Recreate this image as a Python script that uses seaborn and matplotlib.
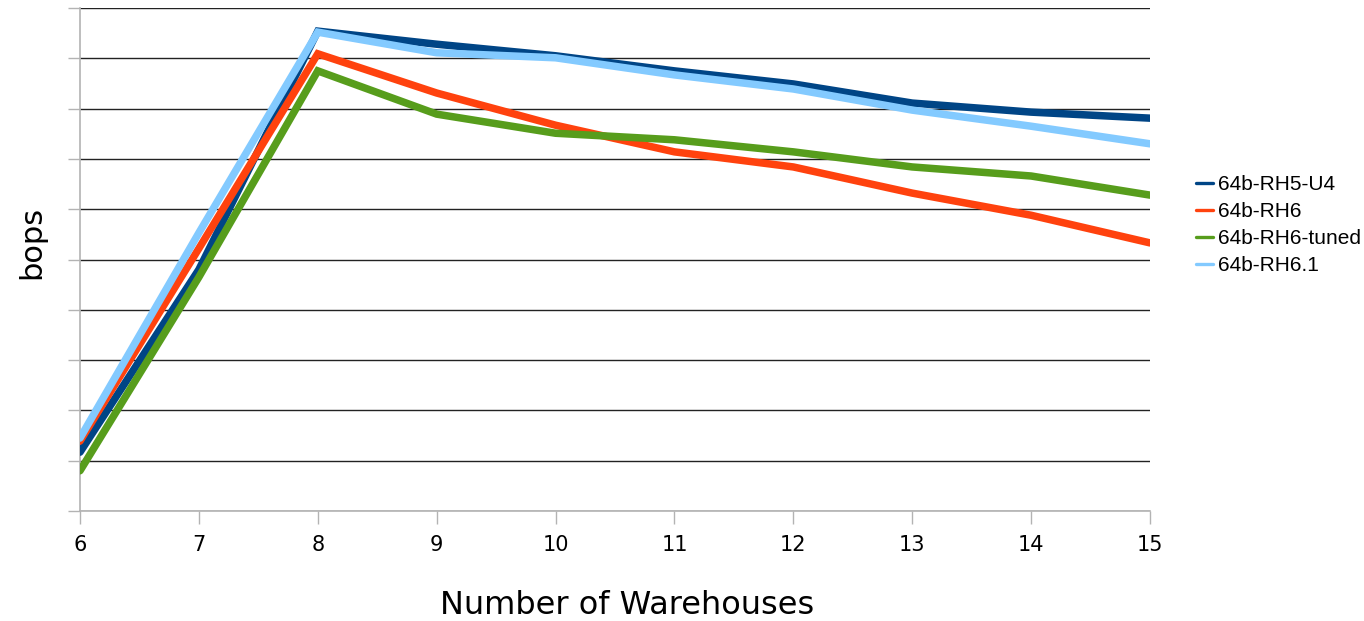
import numpy as np
import pandas as pd
import matplotlib
matplotlib.use("Agg")
import matplotlib.pyplot as plt
import seaborn as sns

# Throughput per warehouse count (relative bops units, axis is unlabelled)
warehouses = [6, 7, 8, 9, 10, 11, 12, 13, 14, 15]
series_names = ["64b-RH5-U4", "64b-RH6", "64b-RH6-tuned", "64b-RH6.1"]
rh5_u4 = [1.17, 4.80, 9.54, 9.28, 9.05, 8.75, 8.49, 8.11, 7.93, 7.81]
rh6 = [1.39, 5.22, 9.09, 8.31, 7.67, 7.14, 6.84, 6.32, 5.88, 5.33]
rh6_tuned = [0.80, 4.65, 8.75, 7.89, 7.51, 7.38, 7.14, 6.84, 6.66, 6.28]
rh6_1 = [1.45, 5.53, 9.52, 9.11, 9.01, 8.67, 8.39, 7.97, 7.65, 7.30]
colors = ["#004586", "#ff420e", "#579d1c", "#83caff"]

df = pd.DataFrame({
    "warehouses": warehouses * 4,
    "bops": rh5_u4 + rh6 + rh6_tuned + rh6_1,
    "series": sum([[n] * len(warehouses) for n in series_names], []),
})

sns.set_theme(style="white")
plt.rcParams["font.family"] = ["DejaVu Sans"]
plt.rcParams["text.color"] = "black"
plt.rcParams["axes.labelcolor"] = "black"

fig = plt.figure(figsize=(13.64, 6.21), dpi=100)
ax = fig.add_axes([80 / 1364, 110 / 621, 1070 / 1364, 503 / 621])

sns.lineplot(data=df, x="warehouses", y="bops", hue="series",
             hue_order=series_names, palette=colors, linewidth=5.4,
             ax=ax, legend=False, solid_joinstyle="miter", zorder=3)

ax.set_xlim(6, 15)
ax.set_ylim(0, 10)
ax.set_xticks(warehouses)
ax.set_xticklabels([str(w) for w in warehouses], fontsize=15)
ax.set_yticks(np.arange(0, 11, 1))
ax.set_yticklabels([])
ax.yaxis.grid(True, color="#222222", linewidth=1.0)
ax.xaxis.grid(False)
ax.set_axisbelow(True)

for side in ["top", "right"]:
    ax.spines[side].set_visible(False)
for side in ["left", "bottom"]:
    ax.spines[side].set_color("#b3b3b3")
    ax.spines[side].set_linewidth(1.2)
ax.tick_params(axis="both", which="both", length=9, width=1,
               color="#b3b3b3", direction="out", left=True, bottom=True,
               labelcolor="black", pad=8)

ax.set_xlabel("Number of Warehouses", fontsize=23)
ax.set_ylabel("bops", fontsize=22)
ax.xaxis.set_label_coords(0.511, -0.157)
ax.yaxis.set_label_coords(-0.032, 0.533)

handles = [plt.Line2D([0], [0], color=c, linewidth=2.4) for c in colors]
fig.legend(handles, series_names, loc="center left",
           bbox_to_anchor=(1196 / 1364, 1 - 225 / 621), frameon=False,
           prop={"family": "Liberation Sans", "size": 15},
           handlelength=0.8, handletextpad=0.25, labelspacing=0.38,
           borderpad=0, borderaxespad=0)

fig.savefig("out.png", dpi=100)
